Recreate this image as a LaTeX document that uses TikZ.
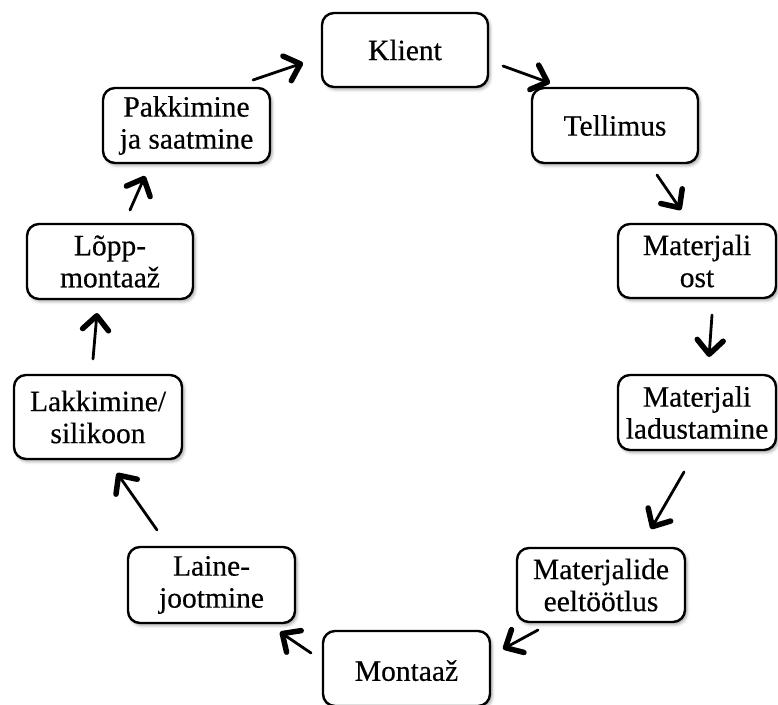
\documentclass[tikz,border=0pt]{standalone}
\usepackage{fontspec}
\setmainfont{Liberation Serif}
\newfontfamily\stagefont[FakeBold=0.4]{Liberation Serif}
\usetikzlibrary{arrows.meta,shadows.blur}

\tikzset{
  stage/.style={draw=black, fill=white, line width=2.4pt, rounded corners=12pt,
    inner sep=0pt, align=center, minimum width=#1,
    font=\stagefont\fontsize{29.5}{32}\selectfont,
    blur shadow={shadow xshift=2pt, shadow yshift=-2.5pt,
      shadow blur radius=3pt, shadow opacity=35}},
  stage/.default=166pt,
  flow/.style={line width=2.8pt, draw=black, line cap=round,
    -{Straight Barb[length=14pt, width=26pt, line width=5.5pt, round]}}
}

\begin{document}
\begin{tikzpicture}[x=1pt, y=-1pt]
  \useasboundingbox (0,0) rectangle (778,704);

  % process stages, clockwise from the top
  \node[stage, minimum height=74pt] (klient) at (405,50) {Klient};
  \node[stage, minimum height=75pt] (tell)   at (615,125.5) {Tellimus};
  \node[stage=158pt, minimum height=74pt] (ost)  at (697,261) {Materjali\\ost};
  \node[stage=158pt, minimum height=75pt] (lad)  at (697,412.5) {Materjali\\ladustamine};
  \node[stage=168pt, minimum height=74pt] (eel)  at (601,585) {Materjalide\\eeltöötlus};
  \node[stage=167pt, minimum height=75pt, text depth=0pt] (mont) at (406.5,668.5) {\raisebox{-4pt}{Montaaž}};
  \node[stage=167pt, minimum height=76pt] (laine) at (211.5,585) {Laine-\\jootmine};
  \node[stage=168pt, minimum height=84pt] (lakk) at (98,417) {Lakkimine/\\silikoon};
  \node[stage=166pt, minimum height=75pt] (lopp) at (110,261.5) {Lõpp-\\montaaž};
  \node[stage=167pt, minimum height=75pt] (pak)  at (186.5,125.5) {Pakkimine\\ja saatmine};

  % arrow end points
  \coordinate (a1) at (253,80);  \coordinate (b1) at (303,63);
  \coordinate (a2) at (503,66);  \coordinate (b2) at (550,83);
  \coordinate (a3) at (657,175); \coordinate (b3) at (681,210);
  \coordinate (a4) at (712,315); \coordinate (b4) at (709,357);
  \coordinate (a5) at (684,472); \coordinate (b5) at (651,529);
  \coordinate (a6) at (538,630); \coordinate (b6) at (503,649);
  \coordinate (a7) at (311,653); \coordinate (b7) at (280,632);
  \coordinate (a8) at (157,530); \coordinate (b8) at (117,473);
  \coordinate (a9) at (93,359);  \coordinate (b9) at (97,313);
  \coordinate (a10) at (130,210); \coordinate (b10) at (145,176);

  % flow of the cycle
  \draw[flow] (a1) -- (b1);
  \draw[flow] (a2) -- (b2);
  \draw[flow] (a3) -- (b3);
  \draw[flow] (a4) -- (b4);
  \draw[flow] (a5) -- (b5);
  \draw[flow] (a6) -- (b6);
  \draw[flow] (a7) -- (b7);
  \draw[flow] (a8) -- (b8);
  \draw[flow] (a9) -- (b9);
  \draw[flow] (a10) -- (b10);
\end{tikzpicture}
\end{document}
